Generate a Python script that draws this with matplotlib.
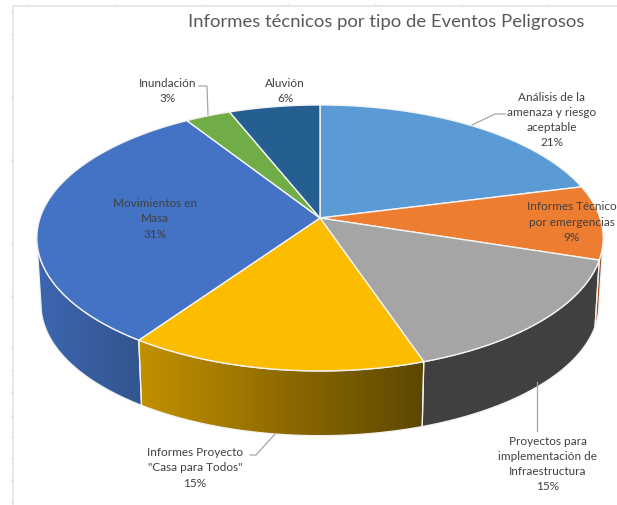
import numpy as np
import matplotlib
matplotlib.use("Agg")
import matplotlib.pyplot as plt
from matplotlib.colors import LinearSegmentedColormap
from matplotlib.patches import Polygon

TITLE = "Informes técnicos por tipo de Eventos Peligrosos"
shares = [21, 9, 14.85, 14.75, 31.4, 3, 6]
names = [
    "Análisis de la\namenaza y riesgo\naceptable",
    "Informes Técnico\npor emergencias",
    "Proyectos para\nimplementación de\nInfraestructura",
    "Informes Proyecto\n\"Casa para Todos\"",
    "Movimientos en\nMasa",
    "Inundación",
    "Aluvión",
]
top_colors = ["#5b9bd5", "#ed7d31", "#a5a5a5", "#fcbd00",
              "#4472c4", "#70ad47", "#255e91"]
side_left = ["#3f74a3", "#b35e25", "#404040", "#c29100",
             "#3c66b0", "#55833a", "#1c466d"]
side_right = ["#3f74a3", "#8a4a1c", "#404040", "#5c4600",
              "#33558f", "#55833a", "#1c466d"]
label_xy = [(552, 120), (572, 222), (548, 464), (195, 468),
            (155, 219), (168, 91), (285, 91)]
leaders = [
    [(505, 115), (495, 115), (472, 126)],
    [(537, 383), (537, 432)],
    [(250, 456), (256, 456), (275, 435)],
    [(199, 87), (207, 87), (208, 116)],
]
top_ticks = [28, 115, 202, 288, 375, 462, 548]
left_ticks = [13, 35, 98, 161, 244, 297, 348, 371, 393, 417, 438, 459, 481,
              503]

# projection of the pie disc
CX, CY = 320, 219
A, B, P = 280, 130, 0.15
DEPTH, SHRINK = 67, 0.985


def rim(theta, bottom=False):
    u, v = np.sin(theta), np.cos(theta)
    d = 1 + P * v
    x, y = A * u / d, -B * v / d
    if bottom:
        return CX + SHRINK * x, CY + DEPTH + SHRINK * y
    return CX + x, CY + y


fig = plt.figure(figsize=(6.17, 5.06), dpi=100)
ax = fig.add_axes([0, 0, 1, 1])
plt.rcParams['font.family'] = ['Lato', 'DejaVu Sans']

# worksheet edge behind the chart
ax.plot([617, 12.5, 12.5], [7, 7, 506], color="#e0e0e0", lw=1.1)
for t in top_ticks:
    ax.plot([t, t], [5, 7], color="#e3e3e3", lw=.8)
for t in left_ticks:
    ax.plot([10.5, 12.5], [t, t], color="#e3e3e3", lw=.8)

edges = 2 * np.pi * np.cumsum([0] + shares) / sum(shares)

# walls first, the top face hides what is left over
for i in range(len(shares)):
    theta = np.linspace(edges[i], edges[i + 1], 160)
    # keep the part in front of the silhouette points
    theta = theta[np.cos(theta) <= -P]
    if len(theta) < 2:
        continue
    xt, yt = rim(theta)
    xb, yb = rim(theta, bottom=True)
    pts = np.r_[np.c_[xt, yt], np.c_[xb, yb][::-1]]
    x0, x1 = pts[:, 0].min(), pts[:, 0].max()
    y0, y1 = pts[:, 1].min(), pts[:, 1].max()
    cmap = LinearSegmentedColormap.from_list(
        f"side{i}", [side_left[i], side_right[i]])
    im = ax.imshow(np.linspace(0, 1, 256)[None, :], cmap=cmap, aspect="auto",
                   extent=(x0, x1, y1, y0), zorder=2)
    outline = Polygon(pts, closed=True, fc="none", ec="#f2f2f2", lw=.9,
                      zorder=3)
    ax.add_patch(outline)
    im.set_clip_path(outline)

for i in range(len(shares)):
    theta = np.linspace(edges[i], edges[i + 1], 120)
    xt, yt = rim(theta)
    pts = np.r_[[[CX, CY]], np.c_[xt, yt]]
    ax.add_patch(Polygon(pts, closed=True, fc=top_colors[i], ec="#f4f4f4",
                         lw=1, joinstyle="round", zorder=4))

for line in leaders:
    xs, ys = zip(*line)
    ax.plot(xs, ys, color="#a6a6a6", lw=.9, zorder=5)

for name, share, (x, y) in zip(names, shares, label_xy):
    ax.text(x, y, f"{name}\n{share:.0f}%", ha="center", va="center",
            fontsize=8.5, color="#404040", linespacing=1.45, zorder=6)

ax.text(386.5, 22, TITLE, ha="center", va="center", fontsize=13.3,
        color="#595959", zorder=6)

ax.set_xlim(0, 617)
ax.set_ylim(506, 0)
ax.axis("off")
fig.savefig("out.png", dpi=100, facecolor="white")
